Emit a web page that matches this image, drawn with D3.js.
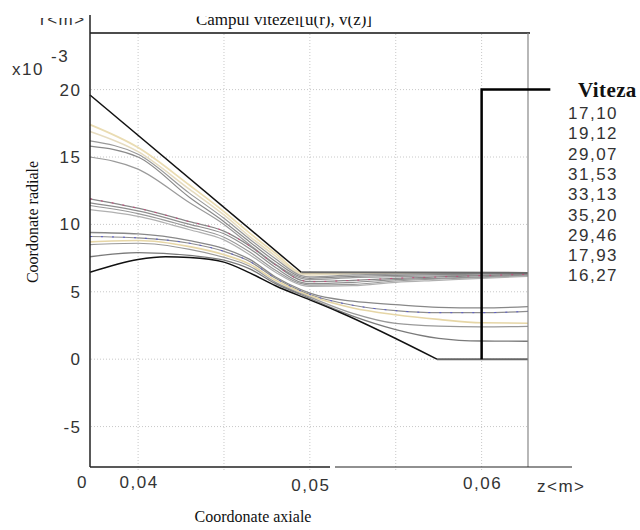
<!DOCTYPE html>
<html>
	<head>
		<meta charset="UTF-8" />
		<title>Campul vitezei</title>
		<script src="https://cdn.jsdelivr.net/npm/d3@7"></script>
		<style>
			body {
				margin: 0;
				background: #fff;
			}
			svg {
				display: block;
				width: 640px;
				height: 530px;
			}
			.tick-label {
				font-family: "Liberation Sans", Arial, sans-serif;
				font-size: 17px;
				letter-spacing: 1.5px;
				fill: #333;
			}
			.serif {
				font-family: "Liberation Serif", "Times New Roman", serif;
				fill: #111;
			}
		</style>
	</head>
	<body>
		<svg width="640" height="530"></svg>

		<script>
			// z grid (m) shared by every streamline
			const zGrid = [0.0372, 0.04, 0.043, 0.045, 0.0465, 0.048, 0.0495, 0.05, 0.0525, 0.055, 0.0575, 0.06, 0.0627];

			// radial coordinate of each streamline (x10^-3 m)
			const upper1 = [17.4, 15.7, 12.9, 10.95, 9.35, 7.85, 6.4, 6.35, 6.4, 6.4, 6.4, 6.4, 6.4];
			const upper2 = [16.9, 15.4, 12.6, 10.7, 9.1, 7.65, 6.3, 6.25, 6.35, 6.38, 6.4, 6.4, 6.4];
			const upper3 = [16.2, 15.2, 12.3, 10.45, 8.9, 7.45, 6.2, 6.1, 6.25, 6.3, 6.33, 6.36, 6.38];
			const upper4 = [15.8, 15.0, 12.0, 10.2, 8.7, 7.25, 6.1, 6.0, 6.15, 6.22, 6.27, 6.3, 6.34];
			const upper5 = [15.0, 14.1, 11.6, 10.0, 8.5, 7.05, 6.0, 5.9, 6.05, 6.12, 6.18, 6.24, 6.3];

			const middle1 = [11.9, 11.2, 10.2, 9.5, 8.4, 7.0, 5.85, 5.75, 5.85, 6.0, 6.1, 6.2, 6.3];
			const middle2 = [11.6, 11.0, 10.0, 9.3, 8.2, 6.8, 5.7, 5.6, 5.7, 5.9, 6.0, 6.1, 6.25];
			const middle3 = [11.4, 10.8, 9.8, 9.05, 7.95, 6.6, 5.6, 5.5, 5.55, 5.8, 5.95, 6.05, 6.2];
			const middle4 = [11.1, 10.6, 9.6, 8.85, 7.75, 6.45, 5.5, 5.4, 5.45, 5.7, 5.85, 6.0, 6.15];

			const lower1 = [9.4, 9.3, 8.8, 8.2, 7.4, 6.1, 5.15, 4.9, 4.3, 4.05, 3.85, 3.8, 3.9];
			const lower2 = [9.1, 9.0, 8.6, 8.0, 7.25, 6.0, 5.05, 4.8, 4.0, 3.6, 3.45, 3.45, 3.55];
			const lower3 = [8.7, 8.8, 8.35, 7.75, 7.05, 5.85, 4.95, 4.7, 3.8, 3.3, 2.95, 2.7, 2.67];
			const lower4 = [8.5, 8.6, 8.15, 7.55, 6.9, 5.7, 4.85, 4.6, 3.4, 2.65, 2.45, 2.4, 2.44];
			const lower5 = [7.6, 7.9, 7.7, 7.35, 6.7, 5.6, 4.78, 4.5, 3.2, 2.2, 1.55, 1.35, 1.33];

			// nozzle wall and central body
			const wallZ = [0.0372, 0.0495, 0.0627];
			const wallR = [19.6, 6.45, 6.4];
			const bodyZ = [0.0372, 0.04, 0.0416, 0.043, 0.045, 0.0465, 0.048, 0.05, 0.0517, 0.0574, 0.0627];
			const bodyR = [6.45, 7.4, 7.6, 7.55, 7.2, 6.4, 5.45, 4.4, 3.5, 0, 0];

			// legend leader line
			const leaderZ = [0.06, 0.06, 0.064];
			const leaderR = [0, 20, 20];

			const speeds = ["17,10", "19,12", "29,07", "31,53", "33,13", "35,20", "29,46", "17,93", "16,27"];

			const yTicks = [-5, 0, 5, 10, 15, 20];
			const xGrid = [0.04, 0.045, 0.05, 0.055, 0.06];
			const xTickLabels = [
				{ z: 0.04, label: "0,04", dy: 0 },
				{ z: 0.05, label: "0,05", dy: 3 },
				{ z: 0.06, label: "0,06", dy: 1 },
			];

			const svg = d3.select("svg");

			const x = d3.scaleLinear().domain([0.0372, 0.0627]).range([90, 528]);
			const y = d3.scaleLinear().domain([-8, 24.2]).range([467, 33]);

			const line = d3
				.line()
				.x((d) => x(d[0]))
				.y((d) => y(d[1]))
				.curve(d3.curveMonotoneX);
			const straight = d3
				.line()
				.x((d) => x(d[0]))
				.y((d) => y(d[1]));

			const pts = (zs, rs) => zs.map((z, i) => [z, rs[i]]);

			// Title and r<m>, their tops are cut off in the picture
			svg
				.append("text")
				.attr("class", "serif")
				.attr("x", 284)
				.attr("y", 25)
				.attr("text-anchor", "middle")
				.style("font-size", "17px")
				.text("Campul vitezei[u(r), v(z)]");
			svg.append("text").attr("class", "tick-label").attr("x", 40).attr("y", 25).text("r<m>");
			svg.append("rect").attr("x", 0).attr("y", 0).attr("width", 640).attr("height", 16.5).attr("fill", "#fff");
			svg.append("rect").attr("x", 0).attr("y", 0).attr("width", 89).attr("height", 18).attr("fill", "#fff");

			// Grid
			svg
				.selectAll("line.hgrid")
				.data(yTicks)
				.enter()
				.append("line")
				.attr("x1", 91)
				.attr("x2", 528)
				.attr("y1", (d) => y(d))
				.attr("y2", (d) => y(d))
				.attr("stroke", "#c8c8c8")
				.attr("stroke-dasharray", "1,2");
			svg
				.selectAll("line.vgrid")
				.data(xGrid)
				.enter()
				.append("line")
				.attr("x1", (d) => x(d))
				.attr("x2", (d) => x(d))
				.attr("y1", 34)
				.attr("y2", 470)
				.attr("stroke", "#c8c8c8")
				.attr("stroke-dasharray", "1,2");

			// Streamlines
			const lines = [
				{ r: upper1, color: "#eadcb2", w: 1.8 },
				{ r: upper2, color: "#e6dcc0", w: 1.6 },
				{ r: upper3, color: "#999", w: 1.2 },
				{ r: upper4, color: "#8a8a8a", w: 1.2 },
				{ r: upper5, color: "#9a9a9a", w: 1.2 },
				{ r: middle1, color: "#888", w: 1.3 },
				{ r: middle2, color: "#8e8e8e", w: 1.2 },
				{ r: middle3, color: "#999", w: 1.2 },
				{ r: middle4, color: "#b0b0b0", w: 1.2 },
				{ r: lower1, color: "#888", w: 1.3 },
				{ r: lower2, color: "#8e8e8e", w: 1.2 },
				{ r: lower3, color: "#e6d6a6", w: 1.6 },
				{ r: lower4, color: "#999", w: 1.2 },
				{ r: lower5, color: "#7a7a7a", w: 1.3 },
			];

			svg
				.selectAll("path.stream")
				.data(lines)
				.enter()
				.append("path")
				.attr("d", (d) => line(pts(zGrid, d.r)))
				.attr("fill", "none")
				.attr("stroke", (d) => d.color)
				.attr("stroke-width", (d) => d.w);

			// coloured dashes on a couple of lines
			svg
				.append("path")
				.attr("d", line(pts(zGrid, middle1)))
				.attr("fill", "none")
				.attr("stroke", "#c8467a")
				.attr("stroke-width", 1)
				.attr("stroke-dasharray", "2,9");
			svg
				.append("path")
				.attr("d", line(pts(zGrid, lower2)))
				.attr("fill", "none")
				.attr("stroke", "#5a5ad0")
				.attr("stroke-width", 1)
				.attr("stroke-dasharray", "2,9");

			// Walls
			const wall = pts(wallZ, wallR);
			svg
				.append("path")
				.attr("d", straight(wall.slice(0, 2)))
				.attr("fill", "none")
				.attr("stroke", "#111")
				.attr("stroke-width", 1.5);
			svg
				.append("path")
				.attr("d", straight(wall.slice(1)))
				.attr("fill", "none")
				.attr("stroke", "#6a6a6a")
				.attr("stroke-width", 2);

			const body = pts(bodyZ, bodyR);
			svg
				.append("path")
				.attr("d", line(body.slice(0, bodyZ.length - 1)))
				.attr("fill", "none")
				.attr("stroke", "#111")
				.attr("stroke-width", 1.5);
			svg
				.append("path")
				.attr("d", straight(body.slice(bodyZ.length - 2)))
				.attr("fill", "none")
				.attr("stroke", "#666")
				.attr("stroke-width", 2);

			// Frame
			svg.append("line").attr("x1", 90).attr("x2", 530).attr("y1", 33).attr("y2", 33).attr("stroke", "#111").attr("stroke-width", 1.5);
			svg.append("line").attr("x1", 528).attr("x2", 528).attr("y1", 33).attr("y2", 467).attr("stroke", "#888").attr("stroke-width", 1.2);
			svg.append("line").attr("x1", 90).attr("x2", 90).attr("y1", 15).attr("y2", 467).attr("stroke", "#222").attr("stroke-width", 1.5);
			svg.append("line").attr("x1", 90).attr("x2", 330).attr("y1", 467).attr("y2", 467).attr("stroke", "#222").attr("stroke-width", 1.5);
			svg.append("line").attr("x1", 335).attr("x2", 572).attr("y1", 467).attr("y2", 467).attr("stroke", "#222").attr("stroke-width", 1.2);

			// Legend leader
			svg
				.append("path")
				.attr("d", straight(pts(leaderZ, leaderR)))
				.attr("fill", "none")
				.attr("stroke", "#000")
				.attr("stroke-width", 2.5);

			// Y tick labels
			svg
				.selectAll("text.ylab")
				.data(yTicks)
				.enter()
				.append("text")
				.attr("class", "tick-label")
				.attr("x", 81.5)
				.attr("y", (d) => y(d) + 6)
				.attr("text-anchor", "end")
				.text((d) => d);

			// X tick labels
			svg
				.selectAll("text.xlab")
				.data(xTickLabels)
				.enter()
				.append("text")
				.attr("class", "tick-label")
				.attr("x", (d) => x(d.z) + 1)
				.attr("y", (d) => 488 + d.dy)
				.attr("text-anchor", "middle")
				.text((d) => d.label);
			svg.append("text").attr("class", "tick-label").attr("x", 77).attr("y", 488).text("0");

			svg.append("text").attr("class", "tick-label").attr("x", 12).attr("y", 75).text("x10");
			svg.append("text").attr("class", "tick-label").attr("x", 51).attr("y", 62).text("-3");
			svg.append("text").attr("class", "tick-label").attr("x", 537).attr("y", 492).text("z<m>");

			// Axis titles
			svg
				.append("text")
				.attr("class", "serif")
				.attr("transform", "translate(38,222) rotate(-90)")
				.attr("text-anchor", "middle")
				.style("font-size", "16px")
				.text("Coordonate radiale");
			svg
				.append("text")
				.attr("class", "serif")
				.attr("x", 253)
				.attr("y", 522)
				.attr("text-anchor", "middle")
				.style("font-size", "16px")
				.text("Coordonate axiale");

			// Legend
			svg
				.append("text")
				.attr("class", "serif")
				.attr("x", 578)
				.attr("y", 97)
				.style("font-size", "21px")
				.style("font-weight", "bold")
				.style("letter-spacing", "0.4px")
				.text("Viteza");
			svg
				.selectAll("text.speed")
				.data(speeds)
				.enter()
				.append("text")
				.attr("class", "tick-label")
				.attr("x", 568)
				.attr("y", (d, i) => 119 + i * 20.3)
				.text((d) => d);
		</script>
	</body>
</html>
